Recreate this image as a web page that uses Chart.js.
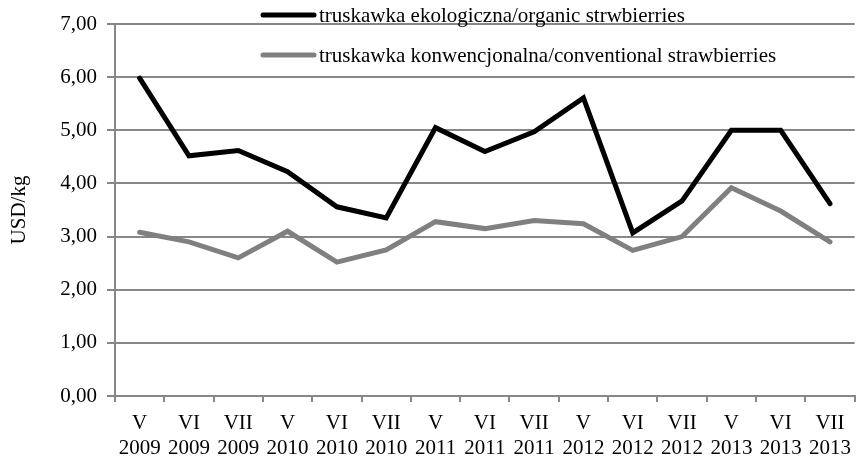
<!DOCTYPE html>
<html><head><meta charset="utf-8">
<script src="https://cdn.jsdelivr.net/npm/chart.js@4"></script>
<style>html,body{margin:0;padding:0;background:#fff;overflow:hidden}#w{width:857px;height:459px;overflow:hidden}</style>
</head><body><div id="w"><canvas id="c" width="860" height="459"></canvas></div>
<script>
const months = ["V","VI","VII","V","VI","VII","V","VI","VII","V","VI","VII","V","VI","VII"];
const years = ["2009","2009","2009","2010","2010","2010","2011","2011","2011","2012","2012","2012","2013","2013","2013"];
const organic = [5.98,4.52,4.62,4.22,3.56,3.35,5.05,4.60,4.97,5.61,3.07,3.67,5.00,5.00,3.62];
const conventional = [3.08,2.90,2.60,3.10,2.52,2.75,3.28,3.15,3.30,3.24,2.74,3.00,3.92,3.48,2.90];
const seriesNames = ["truskawka ekologiczna/organic strwbierries","truskawka konwencjonalna/conventional strawbierries"];
const yTicks = [0,1,2,3,4,5,6,7];

const FONT = "'Liberation Serif', 'Times New Roman', serif";
const GRID = "#878787";

const legendPlugin = {
  id: 'customLegend',
  afterDraw(chart) {
    const ctx = chart.ctx;
    const items = [[15, 0],[55, 1]];
    ctx.save();
    items.forEach(([y, i]) => {
      const ds = chart.data.datasets[i];
      ctx.strokeStyle = ds.borderColor;
      ctx.lineWidth = 5;
      ctx.lineCap = 'round';
      ctx.beginPath(); ctx.moveTo(263, y); ctx.lineTo(314, y); ctx.stroke();
      ctx.fillStyle = '#000';
      ctx.font = "21px " + FONT;
      ctx.textBaseline = 'middle';
      ctx.textAlign = 'left';
      ctx.fillText(ds.label, 319, y + 1);
    });
    ctx.restore();
  }
};

new Chart(document.getElementById('c'), {
  type: 'line',
  data: {
    labels: months.map((m, i) => [m, years[i]]),
    datasets: [
      { label: seriesNames[0], data: organic, borderColor: '#000000', borderWidth: 5, pointRadius: 0, tension: 0, borderCapStyle: 'round', borderJoinStyle: 'miter' },
      { label: seriesNames[1], data: conventional, borderColor: '#808080', borderWidth: 5, pointRadius: 0, tension: 0, borderCapStyle: 'round', borderJoinStyle: 'miter' }
    ]
  },
  plugins: [legendPlugin],
  options: {
    responsive: false,
    animation: false,
    devicePixelRatio: 1,
    layout: { padding: { top: 24, right: 0, left: 0, bottom: 0 } },
    plugins: { legend: { display: false }, tooltip: { enabled: false } },
    scales: {
      x: {
        offset: true,
        grid: { offset: true, drawOnChartArea: false, drawTicks: true, tickLength: 6, color: GRID, lineWidth: 2 },
        border: { display: true, color: GRID, width: 2 },
        ticks: { color: '#000', font: { family: FONT, size: 21, lineHeight: 1.2 }, maxRotation: 0, autoSkip: false, padding: 9 },
        afterFit(s) { s.height = 63; }
      },
      y: {
        min: 0, max: 7,
        afterBuildTicks(s) { s.ticks = yTicks.map(v => ({ value: v })); },
        grid: { color: GRID, lineWidth: 2, tickLength: 8 },
        border: { display: true, color: GRID, width: 2 },
        ticks: { color: '#000', font: { family: FONT, size: 21 }, padding: 10, callback: v => v.toFixed(2).replace('.', ',') },
        title: { display: true, text: 'USD/kg', color: '#000', font: { family: FONT, size: 21 }, padding: { top: 7, bottom: 0 } },
        afterFit(s) { s.width = 115; }
      }
    }
  }
});
</script></body></html>
